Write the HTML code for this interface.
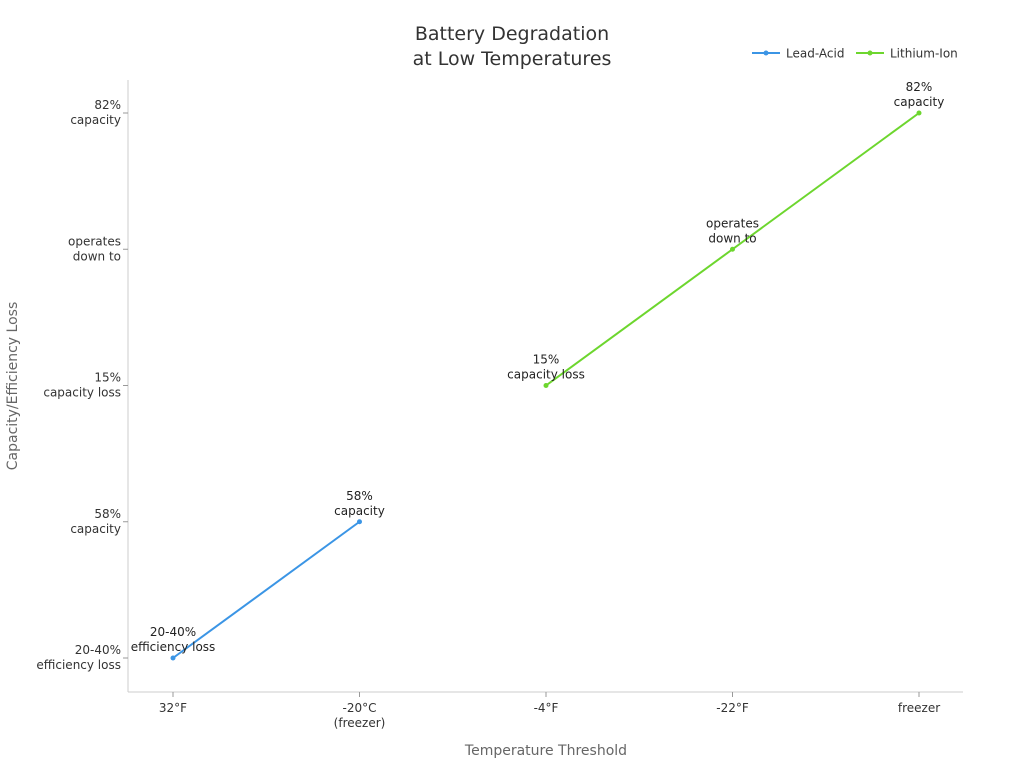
<!DOCTYPE html>
<html><head><meta charset="utf-8"><style>
body{margin:0;background:#fff;font-family:"Liberation Sans","DejaVu Sans",sans-serif;}
svg text{font-family:"DejaVu Sans","Liberation Sans",sans-serif;}
</style></head><body>
<svg id="chart" width="1024" height="768" viewBox="0 0 1024 768">
<text x="512" y="40" text-anchor="middle" font-size="19" fill="#333"><tspan x="512">Battery Degradation</tspan><tspan x="512" dy="25">at Low Temperatures</tspan></text>
<g>
<g><line x1="752" y1="53" x2="780" y2="53" stroke="#3b95e5" stroke-width="2"/><circle cx="766" cy="53" r="2.5" fill="#3b95e5"/><text x="786" y="57.5" font-size="12" fill="#333">Lead-Acid</text></g>
<g><line x1="856" y1="53" x2="884" y2="53" stroke="#6dd62e" stroke-width="2"/><circle cx="870" cy="53" r="2.5" fill="#6dd62e"/><text x="890" y="57.5" font-size="12" fill="#333">Lithium-Ion</text></g>
</g>
<line x1="128" y1="80" x2="128" y2="692" stroke="#ccc"/>
<line x1="128" y1="692" x2="963" y2="692" stroke="#ccc"/>
<g id="xticks"></g><g id="yticks"></g><g id="series"></g>
<text x="546" y="755" text-anchor="middle" font-size="14" fill="#666">Temperature Threshold</text>
<text transform="translate(17,386) rotate(-90)" text-anchor="middle" font-size="14" fill="#666">Capacity/Efficiency Loss</text>
</svg>
<script>
const xCategories=["32°F","-20°C\n(freezer)","-4°F","-22°F","freezer"];
const yCategories=["20-40%\nefficiency loss","58%\ncapacity","15%\ncapacity loss","operates\ndown to","82%\ncapacity"];
const leadAcidX=[0,1];
const leadAcidY=[0,1];
const lithiumX=[2,3,4];
const lithiumY=[2,3,4];
const NS="http://www.w3.org/2000/svg";
function xs(i){return 173+i*186.5;}
function ys(i){return 658-i*136.25;}
function mk(tag,attrs,parent){const e=document.createElementNS(NS,tag);for(const k in attrs)e.setAttribute(k,attrs[k]);parent.appendChild(e);return e;}
function multiline(t,x,y,anchor,parent,lh){const lines=t.split("\n");lines.forEach((l,i)=>{const s=mk("tspan",{x:x,dy:i?lh:0},t);s.textContent=l;});}
const xt=document.getElementById("xticks"),yt=document.getElementById("yticks"),sg=document.getElementById("series");
xCategories.forEach((c,i)=>{
 const tk=mk("line",{x1:xs(i),x2:xs(i),y1:692,y2:697,stroke:"#999"},xt);
 
 
 const t=mk("text",{x:xs(i),y:712,"text-anchor":"middle","font-size":12,fill:"#333"},xt);
 
 
 c.split("\n").forEach((l,j)=>{const s=mk("tspan",{x:xs(i),dy:j?15:0},t);s.textContent=l;});
});
yCategories.forEach((c,i)=>{
 const tk=mk("line",{x1:123,x2:128,y1:ys(i),y2:ys(i),stroke:"#999"},yt);
 
 
 const t=mk("text",{x:121,y:ys(i)-4,"text-anchor":"end","font-size":12,fill:"#333"},yt);
 
 
 c.split("\n").forEach((l,j)=>{const s=mk("tspan",{x:121,dy:j?15:0},t);s.textContent=l;});
});
function drawSeries(X,Y,color,name){
 const g=mk("g",{},sg);
 
 
 const pts=X.map((x,i)=>xs(x)+","+ys(Y[i])).join(" ");
 const pl=mk("polyline",{points:pts,fill:"none",stroke:color,"stroke-width":2},g);
 
 
 X.forEach((x,i)=>{
  const c=mk("circle",{cx:xs(x),cy:ys(Y[i]),r:2.5,fill:color},g);
  
  
  const t=mk("text",{x:xs(x),y:ys(Y[i])-22,"text-anchor":"middle","font-size":12,fill:"#222"},g);
  
  
  yCategories[Y[i]].split("\n").forEach((l,j)=>{const s=mk("tspan",{x:xs(x),dy:j?15:0},t);s.textContent=l;});
 });
}
drawSeries(leadAcidX,leadAcidY,"#3b95e5","lead-acid");
drawSeries(lithiumX,lithiumY,"#6dd62e","lithium-ion");
</script>
</body></html>
